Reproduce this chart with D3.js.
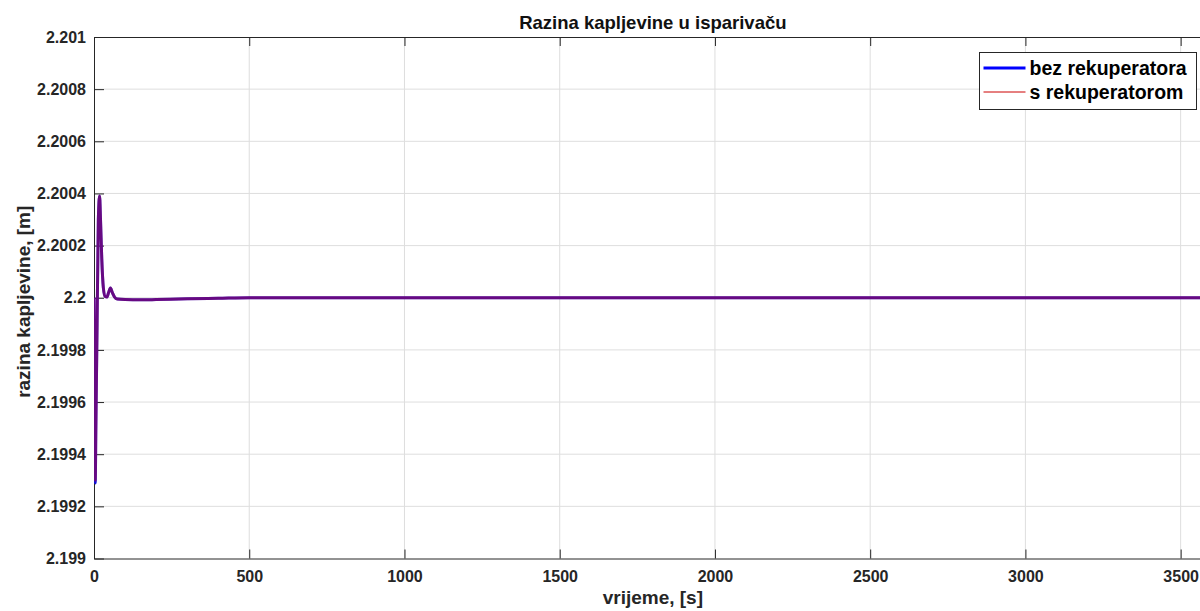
<!DOCTYPE html>
<html>
<head>
<meta charset="utf-8">
<script src="https://cdn.jsdelivr.net/npm/d3@7"></script>
<style>
  body { margin: 0; background: #fff; }
  svg { display: block; font-family: "Liberation Sans", Arial, sans-serif; font-weight: bold; }
</style>
</head>
<body>
<div id="chart"></div>
<script>
// time samples [s]
const time = [0, 2, 4, 6, 10, 14, 18, 21, 25, 30, 36, 42, 47, 53, 59, 66, 75, 100, 150, 200, 300, 400, 500, 1000, 2000, 3000, 3600];
// level without recuperator [m]
const bezRekuperatora = [2.2, 2.1996, 2.19929, 2.1995, 2.1999, 2.2003, 2.20039, 2.2003, 2.20015, 2.20004, 2.200005, 2.200003, 2.20002, 2.200037, 2.20002, 2.200003, 2.199995, 2.199993, 2.199992, 2.199993, 2.199996, 2.199998, 2.2, 2.2, 2.2, 2.2, 2.2];
// level with recuperator [m]
const sRekuperatorom = [2.2, 2.1996, 2.1993, 2.1995, 2.1999, 2.2003, 2.20039, 2.2003, 2.20015, 2.20004, 2.200005, 2.200003, 2.20002, 2.200037, 2.20002, 2.200003, 2.199995, 2.199993, 2.199992, 2.199993, 2.199996, 2.199998, 2.2, 2.2, 2.2, 2.2, 2.2];
const xTicks = [0, 500, 1000, 1500, 2000, 2500, 3000, 3500];
const yTicks = [2.199, 2.1992, 2.1994, 2.1996, 2.1998, 2.2, 2.2002, 2.2004, 2.2006, 2.2008, 2.201];
const legendLabels = ['bez rekuperatora', 's rekuperatorom'];

const width = 1200, height = 611;
const margin = { top: 37, left: 94 };
const plotW = 1117.7, plotH = 521.5;
const fontFamily = '"Liberation Sans", Arial, sans-serif';

const svg = d3.select('#chart').append('svg')
    .attr('width', width)
    .attr('height', height);

const x = d3.scaleLinear().domain([0, 3600]).range([margin.left, margin.left + plotW]);
const y = d3.scaleLinear().domain([2.199, 2.201]).range([margin.top + plotH, margin.top]);

// grid
svg.append('g').selectAll('line.vg')
    .data(xTicks.slice(1))
    .enter().append('line')
    .attr('x1', d => x(d)).attr('x2', d => x(d))
    .attr('y1', margin.top).attr('y2', margin.top + plotH)
    .attr('stroke', '#dedede').attr('stroke-width', 1);

svg.append('g').selectAll('line.hg')
    .data(yTicks.slice(1, -1))
    .enter().append('line')
    .attr('x1', margin.left).attr('x2', margin.left + plotW)
    .attr('y1', d => y(d)).attr('y2', d => y(d))
    .attr('stroke', '#dedede').attr('stroke-width', 1);

// axes (matlab style, ticks inside)
const fmtY = d => d3.format('')(+d.toFixed(4));
svg.append('g')
    .attr('transform', `translate(${margin.left},0)`)
    .call(d3.axisLeft(y).tickValues(yTicks).tickSizeInner(-10).tickSizeOuter(0).tickPadding(8).tickFormat(fmtY))
    .call(g => g.selectAll('text').attr('font-size', 16).attr('font-weight', 'bold').attr('fill', '#262626').attr('font-family', fontFamily))
    .call(g => g.selectAll('line, path').attr('stroke', '#262626'));

svg.append('g')
    .attr('transform', `translate(0,${margin.top + plotH})`)
    .call(d3.axisBottom(x).tickValues(xTicks).tickSizeInner(-9).tickSizeOuter(0).tickPadding(12).tickFormat(d3.format('')))
    .call(g => g.selectAll('text').attr('font-size', 16).attr('font-weight', 'bold').attr('fill', '#262626').attr('font-family', fontFamily))
    .call(g => g.selectAll('line, path').attr('stroke', '#262626'));

svg.append('g')
    .attr('transform', `translate(0,${margin.top})`)
    .call(d3.axisTop(x).tickValues(xTicks).tickSizeInner(-9).tickSizeOuter(0).tickFormat(''))
    .call(g => g.selectAll('line, path').attr('stroke', '#262626'));

// lines
svg.append('clipPath').attr('id', 'clip')
    .append('rect')
    .attr('x', margin.left).attr('y', margin.top)
    .attr('width', plotW).attr('height', plotH);

const line = d3.line().curve(d3.curveMonotoneX);
const plot = svg.append('g').attr('clip-path', 'url(#clip)');

plot.append('path')
    .attr('d', line(time.map((t, i) => [x(t), y(bezRekuperatora[i])])))
    .attr('fill', 'none').attr('stroke', '#1010e0').attr('stroke-width', 3);

plot.append('path')
    .attr('d', line(time.map((t, i) => [x(t), y(sRekuperatorom[i])])))
    .attr('fill', 'none').attr('stroke', '#e00000').attr('stroke-opacity', 0.42).attr('stroke-width', 3);

// title and axis labels
svg.append('text')
    .attr('x', x(1800)).attr('y', 29)
    .attr('text-anchor', 'middle').attr('font-size', 18.5).attr('fill', '#111')
    .text('Razina kapljevine u isparivaču');

svg.append('text')
    .attr('x', x(1800)).attr('y', 604)
    .attr('text-anchor', 'middle').attr('font-size', 19).attr('fill', '#262626')
    .text('vrijeme, [s]');

svg.append('text')
    .attr('transform', `translate(30,${margin.top + plotH / 2 + 4}) rotate(-90)`)
    .attr('text-anchor', 'middle').attr('font-size', 19).attr('fill', '#262626')
    .text('razina kapljevine, [m]');

// legend
const legend = svg.append('g').attr('transform', 'translate(979.5,52.5)');
legend.append('rect')
    .attr('width', 217).attr('height', 57)
    .attr('fill', '#fff').attr('stroke', '#262626').attr('stroke-width', 1);

const legColors = ['#0000ff', '#cc0000'];
const legWidths = [3, 1];
legendLabels.forEach((lab, i) => {
    const ly = 15.5 + i * 24;
    legend.append('line')
        .attr('x1', 4).attr('x2', 46).attr('y1', ly).attr('y2', ly)
        .attr('stroke', legColors[i]).attr('stroke-width', legWidths[i]);
    legend.append('text')
        .attr('x', 50).attr('y', ly + 7)
        .attr('font-size', 19.5).attr('fill', '#000')
        .text(lab);
});
</script>
</body>
</html>
